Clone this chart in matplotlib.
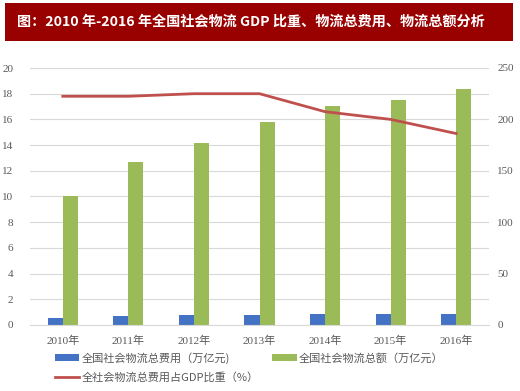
import matplotlib
matplotlib.use("Agg")
import matplotlib.pyplot as plt
from matplotlib.patches import Rectangle
import numpy as np

plt.rcParams["font.family"] = ["Liberation Serif", "Noto Sans CJK SC", "DejaVu Sans"]

# ---- data ----
years = ["2010年", "2011年", "2012年", "2013年", "2014年", "2015年", "2016年"]
cost = [7.1, 8.4, 9.4, 10.2, 10.6, 10.8, 11.1]              # 万亿元 (right axis)
total = [125.0, 158.4, 177.3, 197.8, 213.5, 219.2, 229.7]    # 万亿元 (right axis)
ratio = [17.8, 17.8, 18.0, 18.0, 16.6, 16.0, 14.9]           # % of GDP (left axis)

left_ticks = list(range(0, 21, 2))
right_ticks = [0, 50, 100, 150, 200, 250]

BLUE = "#4472C4"
GREEN = "#9BBB59"
RED = "#C0504D"
GRID = "#D9D9D9"
TXT = "#595959"

W, H = 520, 391
fig = plt.figure(figsize=(W / 100, H / 100), dpi=100)
fig.patch.set_facecolor("white")

# title banner
fig.patches.append(Rectangle((5 / W, 1 - 41 / H), 508 / W, 38 / H,
                             transform=fig.transFigure, facecolor="#990000",
                             edgecolor="none"))
fig.text(17 / W, 1 - 22 / H,
         "图：2010 年-2016 年全国社会物流 GDP 比重、物流总费用、物流总额分析",
         color="white", fontsize=10.2, fontweight="bold", va="center", ha="left",
         family=["Noto Sans CJK SC", "DejaVu Sans"])

ax = fig.add_axes([30 / W, 1 - 325 / H, 459 / W, 257 / H])
ax2 = ax.twinx()

x = np.arange(len(years))
bw = 0.23
ax2.bar(x - bw / 2, cost, width=bw, color=BLUE, label="全国社会物流总费用（万亿元)", zorder=3)
ax2.bar(x + bw / 2, total, width=bw, color=GREEN, label="全国社会物流总额（万亿元）", zorder=3)
ax.plot(x, ratio, color=RED, linewidth=2, label="全社会物流总费用占GDP比重（%）", zorder=5)

ax.set_zorder(ax2.get_zorder() + 1)
ax.patch.set_visible(False)

ax.set_xlim(-0.5, len(years) - 0.5)
ax.set_ylim(0, 20)
ax2.set_ylim(0, 250)
ax.set_yticks(left_ticks)
ax2.set_yticks(right_ticks)
ax.set_xticks(x)
ax.set_xticklabels(years)

for a in (ax, ax2):
    for s in a.spines.values():
        s.set_visible(False)
    a.tick_params(length=0, labelsize=8, colors=TXT)
ax.spines["bottom"].set_visible(True)
ax.spines["bottom"].set_color(GRID)
ax.tick_params(axis="y", pad=12)
ax2.tick_params(axis="y", pad=6)
ax.tick_params(axis="x", pad=8)

# gridlines on the right-axis scale (shared positions)
ax2.set_yticks(np.arange(0, 251, 25), minor=True)
ax2.grid(True, which="both", axis="y", color=GRID, linewidth=0.8, zorder=0)
ax2.tick_params(which="minor", length=0)

h1, l1 = ax2.get_legend_handles_labels()
h2, l2 = ax.get_legend_handles_labels()
handles = [h1[0], h2[0], h1[1]]
labels = [l1[0], l2[0], l1[1]]
fig.legend(handles, labels, ncol=2, loc="upper left",
           bbox_to_anchor=(55 / W, 1 - 352 / H), frameon=False,
           prop={"family": ["Noto Sans CJK SC", "DejaVu Sans"], "size": 8},
           labelcolor=TXT, handlelength=2.2, handleheight=0.55,
           handletextpad=0.2, columnspacing=1.2, labelspacing=0.75,
           borderpad=0, borderaxespad=0)

fig.savefig("out.png", dpi=100)
